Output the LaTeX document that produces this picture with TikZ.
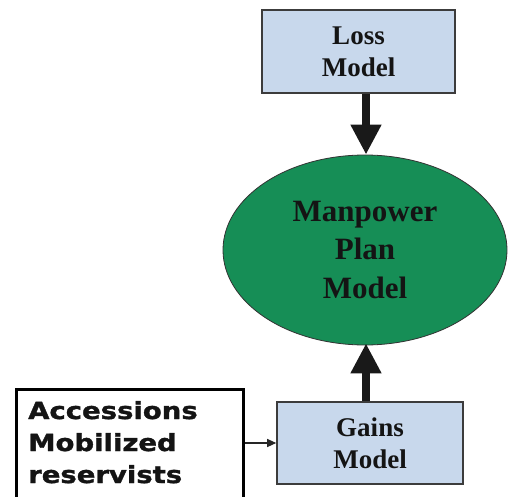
\documentclass[tikz,border=0pt]{standalone}
\usepackage{fontspec}
\setmainfont{Liberation Serif}
\newfontfamily\accfont[FakeStretch=1.17,FakeBold=1.4]{DejaVu Sans}
\usetikzlibrary{arrows.meta,shapes.geometric}
\definecolor{boxblue}{RGB}{200,216,236}
\definecolor{boxedge}{RGB}{60,60,60}
\definecolor{ellgreen}{RGB}{22,142,86}
\definecolor{textdark}{RGB}{20,20,20}
\tikzset{
  modelbox/.style={draw=boxedge, line width=1.6pt, fill=boxblue, align=center,
    text=textdark, font=\bfseries\fontsize{27}{32}\selectfont, inner sep=0pt},
  bigarrow/.style={line width=8pt, draw=black!90, -{Triangle[width=29pt,length=30pt]}},
  thinarrow/.style={line width=1.2pt, draw=black!85, -{Triangle[width=8pt,length=9pt]}},
}
\begin{document}
\begin{tikzpicture}[x=1pt,y=-1pt]
\useasboundingbox (0,0) rectangle (508,497);
\clip (0,0) rectangle (508,497);
\node[modelbox, minimum width=193pt, minimum height=83pt] (loss) at (358.5,51.5) {Loss\\Model};
\node[ellipse, draw=black!80, line width=0.8pt, fill=ellgreen, minimum width=284pt, minimum height=190pt,
  inner sep=0pt, align=center, text=textdark, font=\bfseries\fontsize{31}{38.5}\selectfont] (plan) at (365,250) {Manpower\\Plan\\Model};
\node[modelbox, minimum width=186pt, minimum height=82pt] (gains) at (370,443) {Gains\\Model};
\node[draw=black, line width=3pt, fill=white, minimum width=227pt, minimum height=130pt, inner sep=0pt, anchor=north west] (acc) at (15,388) {};
\node[anchor=base west, align=left, inner sep=0pt, text=textdark,
  font=\accfont\bfseries\fontsize{23.5}{32}\selectfont] (acctext) at (28,483) {Accessions\\Mobilized\\reservists};
\draw[bigarrow] (loss.south -| 366,0) -- (plan.north -| 366,0);
\draw[bigarrow] (gains.north -| 366,0) -- ([yshift=2pt]plan.south -| 366,0);
\draw[thinarrow] (acc.east |- gains.west) -- (gains.west);
\end{tikzpicture}
\end{document}
